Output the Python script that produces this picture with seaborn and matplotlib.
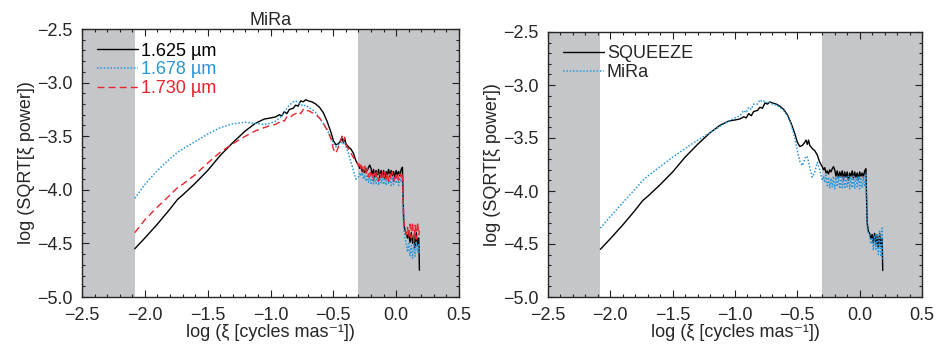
import numpy as np
import pandas as pd
import matplotlib
matplotlib.use("Agg")
import matplotlib.pyplot as plt
from matplotlib.ticker import MultipleLocator, FuncFormatter
from matplotlib.lines import Line2D
import seaborn as sns

# ---------------- data ----------------
freq = [-2.08, -2.00, -1.90, -1.80, -1.74, -1.70, -1.60, -1.50, -1.40, -1.30,
        -1.20, -1.12, -1.05, -1.00, -0.96, -0.93, -0.91, -0.89, -0.87, -0.85,
        -0.82, -0.80, -0.78, -0.76, -0.74, -0.72, -0.70, -0.67, -0.64, -0.61,
        -0.58, -0.55, -0.52, -0.50, -0.48, -0.46, -0.44, -0.43, -0.42, -0.41,
        -0.40, -0.38, -0.36, -0.34, -0.32,
        -0.30, -0.29, -0.28, -0.27, -0.26, -0.25, -0.24, -0.23, -0.22, -0.21,
        -0.20, -0.19, -0.18, -0.17, -0.16, -0.15, -0.14, -0.13, -0.12, -0.11,
        -0.10, -0.09, -0.08, -0.07, -0.06, -0.05, -0.04, -0.03, -0.02, -0.01,
        0.00, 0.01, 0.02, 0.03, 0.04, 0.05,
        0.055, 0.06, 0.07, 0.08, 0.09, 0.10, 0.11, 0.12, 0.13, 0.14,
        0.15, 0.16, 0.17, 0.18, 0.185]

# 1.625 um (MiRa) -- also SQUEEZE in right panel
p1625 = [-4.55, -4.45, -4.32, -4.18, -4.09, -4.05, -3.94, -3.82, -3.68, -3.56,
         -3.45, -3.38, -3.34, -3.33, -3.32, -3.30, -3.31, -3.27, -3.29, -3.25,
         -3.24, -3.21, -3.22, -3.17, -3.18, -3.16, -3.17, -3.18, -3.20, -3.23,
         -3.28, -3.36, -3.46, -3.54, -3.58, -3.57, -3.54, -3.52, -3.56, -3.52,
         -3.57, -3.60, -3.62, -3.66, -3.73,
         -3.77, -3.80, -3.78, -3.83, -3.81, -3.84, -3.80, -3.82, -3.79, -3.77,
         -3.80, -3.86, -3.81, -3.88, -3.82, -3.86, -3.81, -3.89, -3.82, -3.87,
         -3.82, -3.90, -3.83, -3.86, -3.81, -3.88, -3.82, -3.87, -3.83, -3.89,
         -3.82, -3.86, -3.83, -3.87, -3.81, -3.79,
         -4.05, -4.30, -4.38, -4.40, -4.45, -4.41, -4.49, -4.40, -4.50, -4.43,
         -4.54, -4.40, -4.52, -4.45, -4.75]

p1678 = [-4.08, -3.95, -3.82, -3.71, -3.65, -3.62, -3.55, -3.48, -3.42, -3.385,
         -3.37, -3.38, -3.39, -3.38, -3.36, -3.33, -3.31, -3.27, -3.24, -3.21,
         -3.18, -3.17, -3.19, -3.20, -3.22, -3.21, -3.23, -3.25, -3.28, -3.33,
         -3.38, -3.44, -3.51, -3.57, -3.60, -3.58, -3.56, -3.55, -3.57, -3.56,
         -3.60, -3.66, -3.74, -3.82, -3.90,
         -3.88, -3.84, -3.87, -3.84, -3.90, -3.86, -3.92, -3.86, -3.93, -3.87,
         -3.94, -3.88, -3.95, -3.89, -3.94, -3.88, -3.96, -3.89, -3.94, -3.88,
         -3.95, -3.89, -3.96, -3.88, -3.94, -3.89, -3.96, -3.88, -3.95, -3.89,
         -3.94, -3.88, -3.96, -3.89, -3.93, -3.87,
         -4.10, -4.35, -4.45, -4.50, -4.58, -4.50, -4.62, -4.52, -4.64, -4.50,
         -4.62, -4.48, -4.58, -4.50, -4.60]

p1730 = [-4.40, -4.28, -4.16, -4.05, -3.98, -3.95, -3.86, -3.75, -3.65, -3.57,
         -3.50, -3.45, -3.42, -3.40, -3.39, -3.37, -3.35, -3.36, -3.32, -3.33,
         -3.30, -3.29, -3.27, -3.29, -3.25, -3.27, -3.26, -3.28, -3.30, -3.33,
         -3.38, -3.44, -3.52, -3.62, -3.66, -3.60, -3.53, -3.50, -3.55, -3.51,
         -3.58, -3.62, -3.66, -3.70, -3.72,
         -3.78, -3.74, -3.80, -3.76, -3.84, -3.78, -3.86, -3.80, -3.88, -3.82,
         -3.87, -3.83, -3.91, -3.84, -3.90, -3.83, -3.92, -3.85, -3.89, -3.83,
         -3.91, -3.84, -3.90, -3.84, -3.92, -3.85, -3.90, -3.83, -3.92, -3.85,
         -3.89, -3.84, -3.91, -3.85, -3.88, -3.84,
         -4.05, -4.30, -4.36, -4.42, -4.35, -4.44, -4.32, -4.45, -4.30, -4.48,
         -4.33, -4.46, -4.30, -4.42, -4.38]

mira = [-4.35, -4.24, -4.11, -3.98, -3.90, -3.86, -3.77, -3.68, -3.60, -3.52,
        -3.45, -3.39, -3.34, -3.31, -3.29, -3.24, -3.26, -3.21, -3.23, -3.18,
        -3.18, -3.14, -3.16, -3.15, -3.17, -3.16, -3.18, -3.19, -3.21, -3.24,
        -3.29, -3.37, -3.50, -3.62, -3.72, -3.76, -3.70, -3.67, -3.68, -3.72,
        -3.78, -3.87, -3.82, -3.73, -3.80,
        -3.90, -3.86, -3.92, -3.85, -3.95, -3.87, -3.97, -3.88, -3.96, -3.86,
        -3.98, -3.87, -3.96, -3.86, -3.98, -3.87, -3.97, -3.86, -3.98, -3.87,
        -3.96, -3.86, -3.98, -3.87, -3.97, -3.86, -3.98, -3.87, -3.96, -3.86,
        -3.98, -3.87, -3.97, -3.86, -3.96, -3.85,
        -4.05, -4.35, -4.40, -4.42, -4.50, -4.44, -4.56, -4.42, -4.55, -4.40,
        -4.60, -4.38, -4.62, -4.35, -4.65]

left_labels = ["1.625 µm", "1.678 µm", "1.730 µm"]
right_labels = ["SQUEEZE", "MiRa"]
shade_low = (-2.5, -2.08)
shade_high = (-0.30, 0.5)

# ---------------- style ----------------
sns.set_theme(style="ticks")
plt.rcParams["font.family"] = ["Liberation Sans", "DejaVu Sans"]
plt.rcParams["axes.linewidth"] = 1.0

BLACK = "#000000"
BLUE = "#2a96d8"
RED = "#e8242e"
GREY = "#c5c6ca"
FS = 13

fig = plt.figure(figsize=(9.38, 3.46), dpi=100)
axL = fig.add_axes([82 / 938, 49 / 346, 377 / 938, 268 / 346])
axR = fig.add_axes([548 / 938, 49 / 346, 374 / 938, 265 / 346])

dfL = pd.DataFrame({"x": freq, "a": p1625, "b": p1678, "c": p1730})
dfR = pd.DataFrame({"x": freq, "a": p1625, "b": mira})

styles = [(BLACK, "-", 1.0), (BLUE, (0, (1, 1.2)), 1.1), (RED, (0, (5, 3)), 1.0)]
fmt = FuncFormatter(lambda v, p: f"{v:.1f}".replace("-", "\u2212"))


def setup(ax):
    ax.axvspan(*shade_low, color=GREY, lw=0, zorder=0)
    ax.axvspan(*shade_high, color=GREY, lw=0, zorder=0)
    ax.set_xlim(-2.5, 0.5)
    ax.set_ylim(-5.0, -2.5)
    ax.xaxis.set_major_locator(MultipleLocator(0.5))
    ax.xaxis.set_minor_locator(MultipleLocator(0.1))
    ax.yaxis.set_major_locator(MultipleLocator(0.5))
    ax.yaxis.set_minor_locator(MultipleLocator(0.1))
    ax.tick_params(which="both", direction="in", top=True, right=True,
                   labelsize=FS, width=0.8, color="#222222")
    ax.tick_params(which="major", length=5, pad=7)
    ax.tick_params(which="minor", length=2.5)
    ax.xaxis.set_major_formatter(fmt)
    ax.yaxis.set_major_formatter(fmt)
    for s in ax.spines.values():
        s.set_zorder(5)


for ax, df, cols, labels in [(axL, dfL, ["a", "b", "c"], left_labels),
                             (axR, dfR, ["a", "b"], right_labels)]:
    setup(ax)
    handles = []
    for col, (c, ls, lw), lab in zip(cols, styles, labels):
        sns.lineplot(data=df, x="x", y=col, ax=ax, color=c, linestyle=ls,
                     linewidth=lw, sort=False, estimator=None, zorder=3)
        handles.append(Line2D([], [], color=c, linestyle=ls, linewidth=lw))
    ax.set_xlabel("log (ξ [cycles mas⁻¹])", fontsize=FS, labelpad=0)
    ax.set_ylabel("log (SQRT[ξ power])", fontsize=FS, labelpad=1)
    leg = ax.legend(handles, labels, loc="upper left", frameon=False,
                    fontsize=FS, handlelength=2.3, handletextpad=0.15,
                    labelspacing=0.1, borderaxespad=0.2,
                    bbox_to_anchor=(0.01, 0.99))
    if ax is axL:
        for t, (c, _, _) in zip(leg.get_texts(), styles):
            t.set_color(c)

axL.set_title("MiRa", fontsize=FS, pad=2)

fig.savefig("out.png", dpi=100)
